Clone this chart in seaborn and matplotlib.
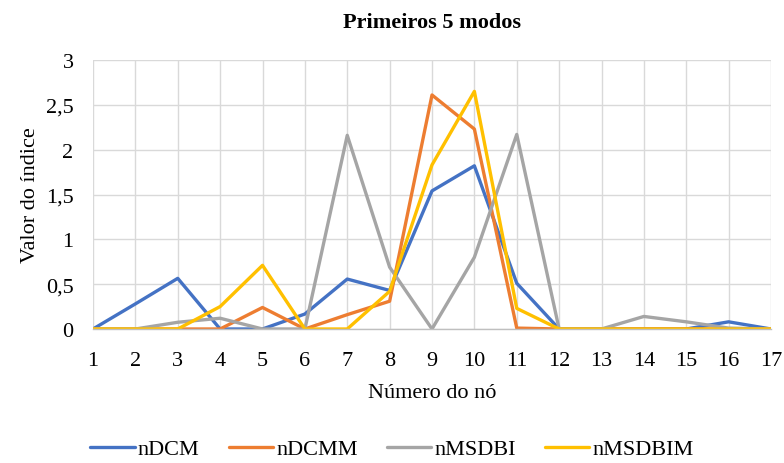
import matplotlib
matplotlib.use("Agg")
import matplotlib.pyplot as plt
import seaborn as sns
import pandas as pd

nodes = list(range(1, 18))
nDCM = [0, 0.28, 0.565, 0, 0, 0.167, 0.557, 0.43, 1.54, 1.82, 0.51, 0, 0, 0, 0, 0.08, 0]
nDCMM = [0, 0, 0, 0, 0.24, 0, 0.16, 0.31, 2.61, 2.23, 0.01, 0, 0, 0, 0, 0, 0]
nMSDBI = [0, 0, 0.075, 0.12, 0, 0, 2.16, 0.69, 0, 0.80, 2.17, 0, 0, 0.14, 0.08, 0.01, 0]
nMSDBIM = [0, 0, 0, 0.25, 0.71, 0, 0, 0.42, 1.83, 2.65, 0.23, 0, 0, 0, 0, 0, 0]

series_names = ["nDCM", "nDCMM", "nMSDBI", "nMSDBIM"]
colors = ["#4472C4", "#ED7D31", "#A5A5A5", "#FFC000"]
y_ticks = [0, 0.5, 1, 1.5, 2, 2.5, 3]
y_tick_labels = ["0", "0,5", "1", "1,5", "2", "2,5", "3"]

rows = []
for name, vals in zip(series_names, [nDCM, nDCMM, nMSDBI, nMSDBIM]):
    for n, v in zip(nodes, vals):
        rows.append({"Nó": n, "Valor": v, "Série": name})
df = pd.DataFrame(rows)

sns.set_theme(style="white")
plt.rcParams["font.family"] = ["Liberation Serif", "DejaVu Serif"]
plt.rcParams["text.color"] = "black"
plt.rcParams["axes.labelcolor"] = "black"
plt.rcParams["xtick.color"] = "black"
plt.rcParams["ytick.color"] = "black"

FS = 16

fig = plt.figure(figsize=(7.84, 4.64), dpi=100)
ax = fig.add_axes([93 / 784, 1 - 330 / 464, (771 - 93) / 784, (330 - 61) / 464])

sns.lineplot(data=df, x="Nó", y="Valor", hue="Série", hue_order=series_names,
             palette=colors, linewidth=2.4, ax=ax, legend=True)

ax.set_xlim(1, 17)
ax.set_ylim(0, 3)
ax.set_xticks(nodes)
ax.set_xticklabels([str(n) for n in nodes], fontsize=FS)
ax.set_yticks(y_ticks)
ax.set_yticklabels(y_tick_labels, fontsize=FS)
ax.tick_params(axis="x", length=0, pad=16)
ax.tick_params(axis="y", length=0, pad=14)
ax.grid(True, color="#D9D9D9", linewidth=1)
ax.set_axisbelow(True)
for s in ["top", "right"]:
    ax.spines[s].set_visible(False)
ax.spines["left"].set_visible(False)
ax.spines["bottom"].set_color("#BFBFBF")
ax.spines["bottom"].set_linewidth(1)

ax.set_xlabel("Número do nó", fontsize=FS, labelpad=9)
ax.set_ylabel("Valor do índice", fontsize=FS, labelpad=4)
ax.set_title("Primeiros 5 modos", fontsize=FS, fontweight="bold", pad=24)

handles, labels = ax.get_legend_handles_labels()
ax.legend(handles, labels, loc="center", bbox_to_anchor=(0.5, 1 - 450 / 464), bbox_transform=fig.transFigure,
          ncol=4, frameon=False, fontsize=FS, handlelength=2.0, columnspacing=1.3, handletextpad=0.15)

fig.savefig("out.png", dpi=100)
